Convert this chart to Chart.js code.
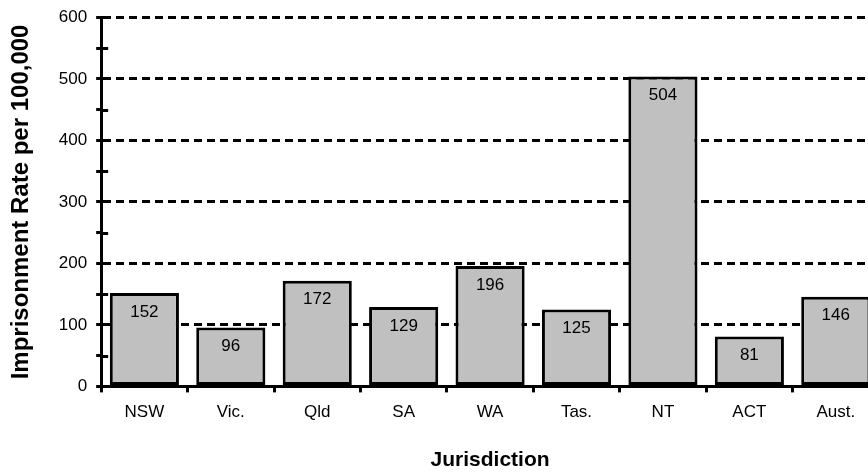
<!DOCTYPE html>
<html>
<head>
<meta charset="utf-8">
<script src="https://cdn.jsdelivr.net/npm/chart.js@4/dist/chart.umd.min.js"></script>
<style>
  html, body { margin: 0; padding: 0; background: #fff; overflow: hidden; }
  #wrap { width: 868px; height: 473px; overflow: hidden; }
</style>
</head>
<body>
<div id="wrap"><canvas id="rateChart" width="882" height="473"></canvas></div>
<script>
const jurisdictions = ['NSW', 'Vic.', 'Qld', 'SA', 'WA', 'Tas.', 'NT', 'ACT', 'Aust.'];
const imprisonmentRates = [152, 96, 172, 129, 196, 125, 504, 81, 146];
const yTickValues = [0, 100, 200, 300, 400, 500, 600];

const fontFamily = '"Liberation Sans", Arial, sans-serif';

// draws the value inside the top of each bar, plus small inward minor ticks on y axis
const barLabels = {
    id: 'barLabels',
    afterDatasetsDraw(chart) {
        const ctx = chart.ctx;
        const meta = chart.getDatasetMeta(0);
        ctx.save();
        ctx.fillStyle = '#000';
        ctx.font = '17px ' + fontFamily;
        ctx.textAlign = 'center';
        ctx.textBaseline = 'middle';
        meta.data.forEach((bar, i) => {
            ctx.fillText(String(imprisonmentRates[i]), bar.x, bar.y + 19);
        });
        ctx.restore();
    },
    afterDraw(chart) {
        const ctx = chart.ctx;
        const y = chart.scales.y;
        ctx.save();
        ctx.strokeStyle = '#000';
        ctx.lineWidth = 3;
        for (let v = 50; v < 600; v += 100) {
            const py = Math.round(y.getPixelForValue(v)) + 0.5;
            ctx.beginPath();
            ctx.moveTo(y.right, py);
            ctx.lineTo(y.right + 7, py);
            ctx.stroke();
        }
        ctx.restore();
    }
};

const ctx = document.getElementById('rateChart').getContext('2d');
const rateChart = new Chart(ctx, {
    type: 'bar',
    data: {
        labels: jurisdictions,
        datasets: [{
            label: 'Imprisonment Rate per 100,000',
            data: imprisonmentRates,
            backgroundColor: '#c0c0c0',
            borderColor: '#000',
            borderWidth: 3,
            borderSkipped: false,
            categoryPercentage: 0.8,
            barPercentage: 1.0
        }]
    },
    options: {
        responsive: false,
        animation: false,
        layout: {
            padding: { left: 7, top: 8, right: 3, bottom: 0 }
        },
        plugins: {
            legend: { display: false },
            tooltip: { enabled: false }
        },
        scales: {
            x: {
                offset: true,
                grid: {
                    offset: true,
                    drawOnChartArea: false,
                    color: '#000',
                    lineWidth: 3,
                    tickLength: 6
                },
                border: { color: '#000', width: 3 },
                ticks: {
                    color: '#000',
                    padding: 10,
                    font: { family: fontFamily, size: 17 }
                },
                title: {
                    display: true,
                    text: 'Jurisdiction',
                    color: '#000',
                    padding: { top: 15, bottom: 0 },
                    font: { family: fontFamily, size: 21, weight: 'bold' }
                }
            },
            y: {
                min: 0,
                max: 600,
                ticks: {
                    stepSize: 50,
                    color: '#000',
                    padding: 9,
                    font: { family: fontFamily, size: 17, lineHeight: 1 },
                    callback: (value) => yTickValues.includes(value) ? String(value) : ''
                },
                grid: {
                    color: (c) => (c.tick && c.tick.value % 100 === 0 && c.tick.value > 0) ? '#000' : 'rgba(0,0,0,0)',
                    tickColor: '#000',
                    lineWidth: 3,
                    tickLength: 5
                },
                border: { color: '#000', width: 3, dash: [8, 5] },
                title: {
                    display: true,
                    text: 'Imprisonment Rate per 100,000',
                    color: '#000',
                    padding: { top: 0, bottom: 14 },
                    font: { family: fontFamily, size: 24, weight: 'bold' }
                }
            }
        }
    },
    plugins: [barLabels]
});
</script>
</body>
</html>
